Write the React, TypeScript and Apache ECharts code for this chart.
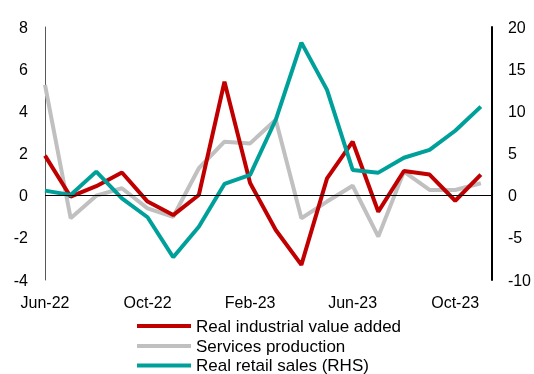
import React, { useEffect, useRef } from "react";
import * as echarts from "echarts";

const months = [
  "Jun-22", "Jul-22", "Aug-22", "Sep-22", "Oct-22", "Nov-22", "Dec-22", "Jan-23", "Feb-23",
  "Mar-23", "Apr-23", "May-23", "Jun-23", "Jul-23", "Aug-23", "Sep-23", "Oct-23", "Nov-23",
];
const industrial = [1.9, -0.05, 0.45, 1.1, -0.28, -0.92, 0.03, 5.4, 0.6, -1.63, -3.28, 0.82, 2.56, -0.76, 1.17, 1.0, -0.24, 1.0];
const services = [5.25, -1.07, 0.0, 0.35, -0.6, -1.0, 1.3, 2.56, 2.48, 3.6, -1.07, -0.28, 0.47, -1.94, 1.14, 0.27, 0.27, 0.59];
const retail = [0.6, 0.08, 2.85, -0.31, -2.56, -7.3, -3.68, 1.39, 2.46, 9.0, 18.15, 12.54, 3.05, 2.73, 4.5, 5.42, 7.7, 10.56];
const seriesNames = ["Real industrial value added", "Services production", "Real retail sales (RHS)"];
const legendTops = [317.5, 337.5, 357];

const FONT = "'Liberation Sans', Arial, sans-serif";

export default function App() {
  const ref = useRef<HTMLDivElement>(null);
  useEffect(() => {
    document.body.style.margin = "0";
    if (!ref.current) return;
    const chart = echarts.init(ref.current, undefined, { renderer: "svg" });
    const toPairs = (arr: number[]) => arr.map((v, i) => [i, v]);
    chart.setOption({
      animation: false,
      textStyle: { fontFamily: FONT },
      grid: { left: 45, right: 41, top: 27, bottom: 94, containLabel: false },
      xAxis: {
        type: "value",
        min: 0,
        max: 17.43,
        interval: 4,
        axisLine: { show: false },
        axisTick: { show: false },
        splitLine: { show: false },
        axisLabel: {
          fontSize: 16,
          color: "#000",
          margin: 14,
          fontFamily: FONT,
          formatter: (v: number) => (Number.isInteger(v) && months[v] ? months[v] : ""),
        },
      },
      yAxis: [
        {
          type: "value",
          min: -4,
          max: 8,
          interval: 2,
          position: "left",
          axisLine: { show: true, onZero: false, lineStyle: { color: "#595959", width: 1 } },
          axisTick: { show: false },
          splitLine: { show: false },
          axisLabel: { fontSize: 16, color: "#000", margin: 17, fontFamily: FONT },
        },
        {
          type: "value",
          min: -10,
          max: 20,
          interval: 5,
          position: "right",
          axisLine: { show: true, onZero: false, lineStyle: { color: "#000", width: 2 } },
          axisTick: { show: false },
          splitLine: { show: false },
          axisLabel: { fontSize: 16, color: "#000", margin: 16, fontFamily: FONT },
        },
      ],
      legend: seriesNames.map((name, i) => ({
        orient: "vertical",
        left: 137,
        top: legendTops[i],
        padding: 0,
        icon: "rect",
        itemWidth: 54,
        itemHeight: 4,
        data: [name],
        textStyle: { fontSize: 17, lineHeight: 17, color: "#000", fontFamily: FONT },
      })),
      series: [
        {
          name: seriesNames[0],
          type: "line",
          yAxisIndex: 0,
          data: toPairs(industrial),
          showSymbol: false,
          color: "#C00000",
          lineStyle: { width: 4, color: "#C00000" },
          z: 3,
          markLine: {
            silent: true,
            symbol: "none",
            label: { show: false },
            lineStyle: { color: "#000", width: 1, type: "solid" },
            data: [{ yAxis: 0 }],
          },
        },
        {
          name: seriesNames[1],
          type: "line",
          yAxisIndex: 0,
          data: toPairs(services),
          showSymbol: false,
          color: "#C0C0C0",
          lineStyle: { width: 4, color: "#C0C0C0" },
          z: 2,
        },
        {
          name: seriesNames[2],
          type: "line",
          yAxisIndex: 1,
          data: toPairs(retail),
          showSymbol: false,
          color: "#00A09A",
          lineStyle: { width: 4, color: "#00A09A" },
          z: 4,
        },
      ],
    });
    return () => chart.dispose();
  }, []);
  return <div ref={ref} style={{ position: "fixed", left: 0, top: 0, width: 534, height: 374 }} />;
}
